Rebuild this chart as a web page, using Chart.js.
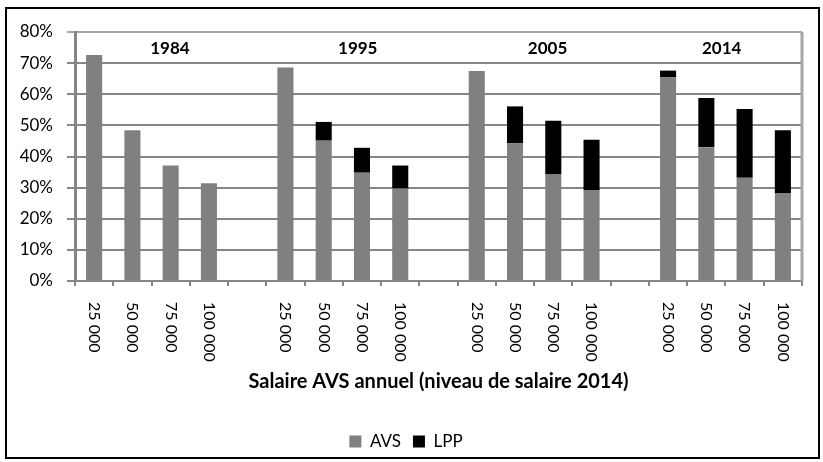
<html>
<head>
    <script src="https://cdn.jsdelivr.net/npm/chart.js@4"></script>
    <style>
        body { margin: 0; background: #fff; }
    </style>
</head>
<body>
    <div style="width: 823px;height: 462px;">
        <canvas id="salChart"></canvas>
    </div>
    <script>
        var categories = ['25 000', '50 000', '75 000', '100 000', '',
            '25 000', '50 000', '75 000', '100 000', '',
            '25 000', '50 000', '75 000', '100 000', '',
            '25 000', '50 000', '75 000', '100 000'];
        var avsValues = [72.6, 48.4, 37.1, 31.4, null,
            68.6, 45.1, 34.8, 29.7, null,
            67.5, 44.2, 34.2, 29.1, null,
            65.4, 43.0, 33.2, 28.1];
        var lppValues = [0, 0, 0, 0, null,
            0, 6.0, 8.0, 7.4, null,
            0, 11.9, 17.3, 16.3, null,
            2.2, 15.8, 22.1, 20.3];
        var yearLabels = ['1984', '1995', '2005', '2014'];
        var yTicks = [0, 10, 20, 30, 40, 50, 60, 70, 80];

        var fontName = 'Lato';
        var gridGray = '#868686';

        // annees dans la zone du graphique, etiquettes verticales, cadre
        var extras = {
            id: 'extras',
            afterDraw: function (chart) {
                var ctx = chart.ctx;
                var area = chart.chartArea;
                var x = chart.scales.x;
                var y = chart.scales.y;
                ctx.save();

                // bord droit
                ctx.strokeStyle = '#a6a6a6';
                ctx.lineWidth = 3;
                ctx.beginPath();
                ctx.moveTo(area.right, area.top);
                ctx.lineTo(area.right, area.bottom);
                ctx.stroke();

                // annees
                var yearPos = [1.98, 6.89, 11.85, 16.4];
                ctx.fillStyle = '#000';
                ctx.font = 'bold 17px ' + fontName;
                ctx.textAlign = 'center';
                ctx.textBaseline = 'middle';
                for (let i = 0; i < yearLabels.length; i++) {
                    ctx.fillText(yearLabels[i], x.getPixelForValue(yearPos[i]), y.getPixelForValue(75) + 1);
                }

                // etiquettes x, lues de haut en bas
                ctx.font = '16px ' + fontName;
                ctx.textAlign = 'left';
                for (let i = 0; i < categories.length; i++) {
                    if (!categories[i]) continue;
                    ctx.save();
                    ctx.translate(x.getPixelForValue(i), area.bottom + 21);
                    ctx.rotate(Math.PI / 2);
                    ctx.fillText(categories[i], 0, 0);
                    ctx.restore();
                }

                // cadre exterieur
                ctx.strokeStyle = '#000';
                ctx.lineWidth = 2;
                ctx.strokeRect(6, 8, 813, 450);
                ctx.restore();
            }
        };

        var salData = {
            labels: categories,
            datasets: [
                {
                    label: 'AVS',
                    data: avsValues,
                    backgroundColor: '#808080',
                    barPercentage: 0.42,
                    categoryPercentage: 1
                },
                {
                    label: 'LPP',
                    data: lppValues,
                    backgroundColor: '#000000',
                    barPercentage: 0.42,
                    categoryPercentage: 1
                }
            ]
        };

        const salConfig = {
            type: 'bar',
            data: salData,
            plugins: [extras],
            options: {
                responsive: true,
                maintainAspectRatio: false,
                animation: false,
                layout: {
                    padding: { left: 10, top: 32, right: 21, bottom: 2 }
                },
                plugins: {
                    tooltip: { enabled: false },
                    legend: {
                        position: 'bottom',
                        labels: {
                            boxWidth: 12,
                            boxHeight: 12,
                            color: '#000',
                            padding: 12,
                            font: { family: fontName, size: 17 }
                        }
                    }
                },
                scales: {
                    x: {
                        stacked: true,
                        afterFit: function (scale) { scale.height = 140; },
                        ticks: { display: false },
                        grid: {
                            offset: true,
                            drawOnChartArea: false,
                            drawTicks: true,
                            tickLength: 5,
                            color: gridGray,
                            lineWidth: 2
                        },
                        border: { display: true, color: gridGray, width: 2 },
                        title: {
                            display: true,
                            text: 'Salaire AVS annuel (niveau de salaire 2014)',
                            color: '#000',
                            font: { family: fontName, size: 20, weight: 'bold' },
                            padding: { top: 0, bottom: 27 }
                        }
                    },
                    y: {
                        stacked: true,
                        min: 0,
                        max: 80,
                        afterFit: function (scale) { scale.width = 65; },
                        afterBuildTicks: function (scale) {
                            scale.ticks = yTicks.map(function (v) { return { value: v }; });
                        },
                        ticks: {
                            color: '#000',
                            padding: 14,
                            font: { family: fontName, size: 17 },
                            callback: function (v) { return v + '%'; }
                        },
                        grid: {
                            color: function (c) { return c.tick && c.tick.value === 80 ? '#a6a6a6' : gridGray; },
                            lineWidth: 2,
                            tickLength: 8
                        },
                        border: { display: true, color: gridGray, width: 3 }
                    }
                }
            }
        };

        var salCtx = document.getElementById('salChart').getContext('2d');
        var salChart = new Chart(salCtx, salConfig);
    </script>
</body>
</html>
